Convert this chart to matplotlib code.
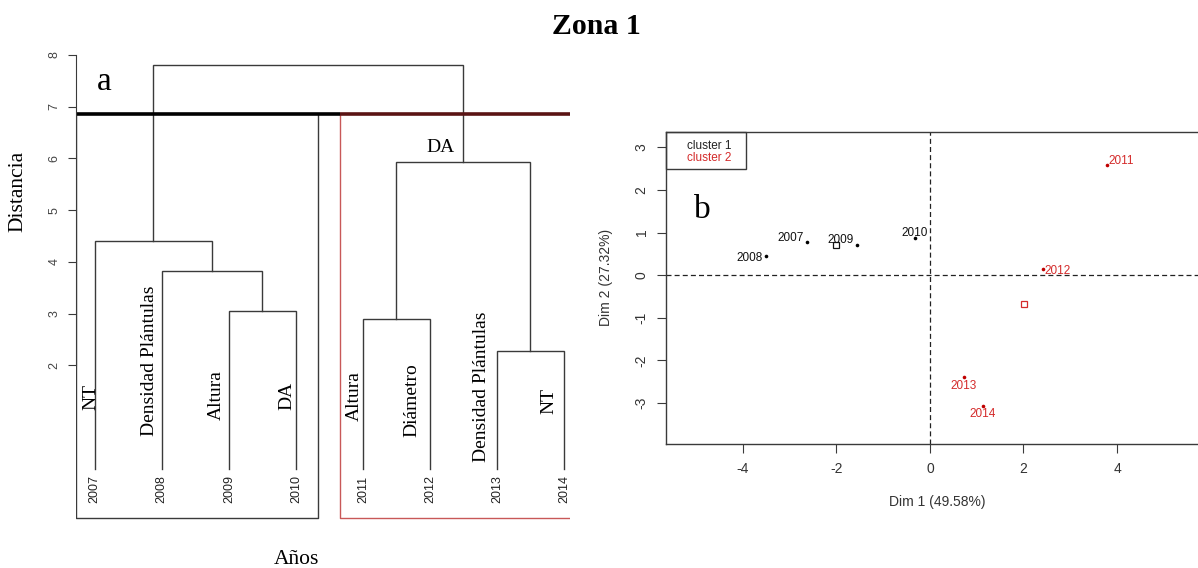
import matplotlib
matplotlib.use("Agg")
import matplotlib.pyplot as plt
import numpy as np

# --- dendrogram data (panel a) ---
years = ["2007", "2008", "2009", "2010", "2011", "2012", "2013", "2014"]
# hclust-style merge table: negative = leaf index, positive = earlier merge
merge = [(-3, -4), (-2, 1), (-1, 2), (-5, -6), (-7, -8), (4, 5), (3, 6)]
merge_height = [3.05, 3.82, 4.40, 2.90, 2.28, 5.93, 7.80]
cluster_sizes = [4, 4]
variables = ["NT", "Densidad Plántulas", "Altura", "DA",
             "Altura", "Diámetro", "Densidad Plántulas", "NT"]

# --- PCA map data (panel b) ---
dim1 = [-2.63, -3.51, -1.55, -0.32, 3.78, 2.41, 0.73, 1.13]
dim2 = [0.77, 0.45, 0.71, 0.88, 2.59, 0.155, -2.40, -3.07]
cluster = [1, 1, 1, 1, 2, 2, 2, 2]

serif = "Liberation Serif"
sans = "Liberation Sans"
line_col = "#3a3a3a"
red_col = "#d42a2a"

fig = plt.figure(figsize=(11.98, 5.68), dpi=100)
fig.text(0.498, 0.953, "Zona 1", family=serif, weight="bold", fontsize=21.5,
         ha="center", va="center")

# ================= panel a =================
xmin, xmax = 0.72, 8.09
ax = fig.add_axes([76 / 1198, 1 - 523 / 568, 494 / 1198, 483 / 568])
ax.set_xlim(xmin, xmax)
ax.set_ylim(-1.05, 8.29)

# node positions like R's plot.hclust
node_x, node_h = [], []
def pos(k):
    if k < 0:
        return -k, 0.0
    return node_x[k - 1], node_h[k - 1]

for (a, b), h in zip(merge, merge_height):
    xa, ha = pos(a)
    xb, hb = pos(b)
    ax.plot([xa, xa, xb, xb], [ha, h, h, hb], color=line_col, lw=1.0,
            solid_joinstyle="miter")
    node_x.append((xa + xb) / 2)
    node_h.append(h)

# leaf labels and variable names
for i, (yr, var) in enumerate(zip(years, variables), start=1):
    ax.text(i, -0.13, yr, rotation=90, ha="center", va="top",
            family=sans, fontsize=9, color="#222222")

var_pos = [(0.94, 1.39), (1.81, 2.09), (2.82, 1.42), (3.87, 1.40),
           (4.87, 1.41), (5.73, 1.32), (6.77, 1.58), (7.78, 1.31)]
for var, (vx, vy) in zip(variables, var_pos):
    ax.text(vx, vy, var, rotation=90, ha="center", va="center",
            family=serif, fontsize=14)

ax.text(6.16, 6.22, "DA", ha="center", va="center", family=serif, fontsize=14)
ax.text(1.14, 7.33, "a", ha="center", va="baseline", family=serif, fontsize=24)

# rect.hclust style cluster boxes
cut = np.mean(sorted(merge_height)[-2:])
bottom = -0.96
edges = np.cumsum([0] + cluster_sizes)
box_cols = [line_col, "#c85858"]
for k in range(len(cluster_sizes)):
    x0 = max(edges[k] + 0.66, xmin)
    x1 = edges[k + 1] + 0.33
    ax.plot([x0, x0, x1, x1], [cut, bottom, bottom, cut],
            color=box_cols[k], lw=1.0)
split = edges[1] + 0.66
ax.plot([xmin, split], [cut, cut], color="black", lw=2.6, solid_capstyle="butt")
ax.plot([split, xmax], [cut, cut], color="#5a1414", lw=2.6, solid_capstyle="butt")

for s in ["top", "right", "bottom"]:
    ax.spines[s].set_visible(False)
ax.spines["left"].set_bounds(2, 8)
ax.spines["left"].set_color(line_col)
ax.set_yticks(range(2, 9))
ax.set_yticklabels([str(v) for v in range(2, 9)], rotation=90, va="center",
                   family=sans, fontsize=9, color="#444444")
ax.tick_params(axis="y", length=6, color=line_col, pad=5)
ax.set_xticks([])
ax.patch.set_alpha(0)

fig.text(18 / 1198, 1 - 191 / 568, "Distancia", rotation=90, family=serif,
         fontsize=15.5, ha="center", va="center")
fig.text(296 / 1198, 1 - 559 / 568, "Años", family=serif, fontsize=15.5,
         ha="center", va="center")

# ================= panel b =================
bx = fig.add_axes([666 / 1198, 1 - 444.3 / 568, 532 / 1198, 312.6 / 568])
bx.set_xlim(-5.64, 5.73)
bx.set_ylim(-3.97, 3.37)
bx.axhline(0, color="#222222", lw=0.9, dashes=(4, 2.5))
bx.axvline(0, color="#222222", lw=0.9, dashes=(4, 2.5))

colors = {1: "#111111", 2: red_col}
dot_colors = {1: "#000000", 2: "#c00000"}
# label offsets in points: (dx, dy, ha)
offsets = [(-2, 3.5, "right"), (-2, -1.5, "right"), (-12, 3.5, "center"),
           (0, 3.5, "center"), (1.5, 3, "left"), (1.5, -1.5, "left"),
           (0, -6, "center"), (0, -6, "center")]
for x, y, c, yr, (dx, dy, ha) in zip(dim1, dim2, cluster, years, offsets):
    bx.plot(x, y, "o", ms=2.6, color=dot_colors[c], mec="none")
    bx.annotate(yr, (x, y), xytext=(dx, dy), textcoords="offset points",
                ha=ha, va="center", family=sans, fontsize=8.5, color=colors[c])

d1 = np.array(dim1)
d2 = np.array(dim2)
cl = np.array(cluster)
for c in (1, 2):
    bx.plot(d1[cl == c].mean(), d2[cl == c].mean(), "s", ms=4.5, mfc="none",
            mec=colors[c], mew=0.9)

# legend box
bx.add_patch(plt.Rectangle((-5.64, 2.49), 1.71, 0.88, fill=False,
                           ec=line_col, lw=1.0, clip_on=False))
bx.text(-4.72, 3.04, "cluster 1", ha="center", va="center", family=sans,
        fontsize=8.5, color="#222222")
bx.text(-4.72, 2.75, "cluster 2", ha="center", va="center", family=sans,
        fontsize=8.5, color=red_col)
bx.text(-5.04, 1.34, "b", ha="left", va="baseline", family=serif, fontsize=24)

bx.spines["right"].set_visible(False)
for s in ["top", "left", "bottom"]:
    bx.spines[s].set_color(line_col)
    bx.spines[s].set_linewidth(1.0)
bx.set_xticks([-4, -2, 0, 2, 4])
bx.set_xticklabels(["-4", "-2", "0", "2", "4"], family=sans, fontsize=10,
                   color="#333333")
bx.set_yticks(range(-3, 4))
bx.set_yticklabels([str(v) for v in range(-3, 4)], rotation=90, va="center",
                   family=sans, fontsize=10, color="#333333")
bx.tick_params(length=6.5, color=line_col, pad=6)

fig.text(937 / 1198, 1 - 501.7 / 568, "Dim 1 (49.58%)", family=sans,
         fontsize=10, ha="center", va="center", color="#333333")
fig.text(606 / 1198, 1 - 277 / 568, "Dim 2 (27.32%)", family=sans,
         fontsize=10, rotation=90, ha="center", va="center", color="#333333")

fig.savefig("out.png", dpi=100)
